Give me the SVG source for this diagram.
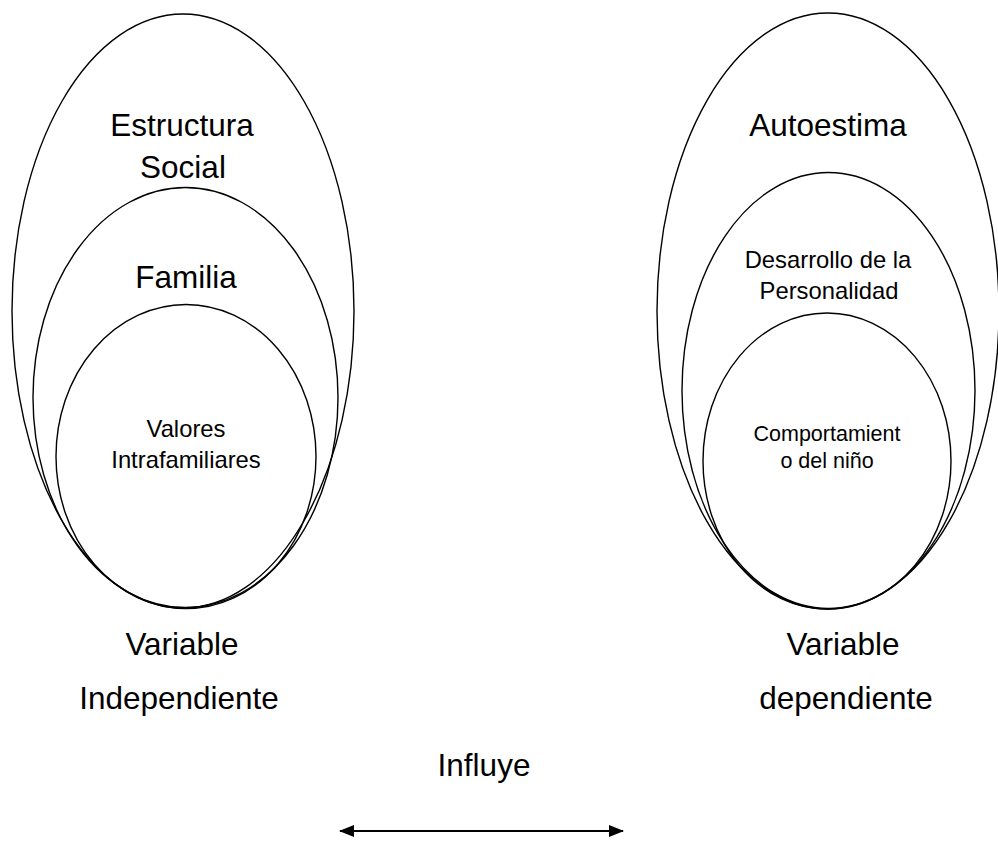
<svg xmlns="http://www.w3.org/2000/svg" width="998" height="843" viewBox="0 0 998 843">
<style>
.e{fill:none;stroke:#000;stroke-width:1.4}
.t{font-family:"Liberation Sans",Arial,sans-serif;fill:#000;text-anchor:middle}
.big{font-size:31.5px}
.sm{font-size:23.8px}
</style>
<defs>
<marker id="ah" viewBox="0 0 15 12" refX="14" refY="6" markerWidth="15" markerHeight="12" markerUnits="userSpaceOnUse" orient="auto-start-reverse">
<path d="M0,0 L15,6 L0,12 Z" fill="#000"/>
</marker>
</defs>
<rect width="998" height="843" fill="#fff"/>
<g id="estructura-social">
<ellipse class="e" cx="183" cy="311" rx="171" ry="297"/>
<text class="t big" x="182" y="136">Estructura</text>
<text class="t big" x="183" y="178">Social</text>
</g>
<g id="familia">
<ellipse class="e" cx="185.5" cy="397.5" rx="152.5" ry="210"/>
<text class="t big" x="186" y="288">Familia</text>
</g>
<g id="valores">
<ellipse class="e" cx="186" cy="456.5" rx="130" ry="152"/>
<text class="t sm" x="186" y="437">Valores</text>
<text class="t sm" x="186" y="468">Intrafamiliares</text>
</g>
<g id="autoestima">
<ellipse class="e" cx="828" cy="311" rx="171" ry="298"/>
<text class="t big" x="828" y="136">Autoestima</text>
</g>
<g id="personalidad">
<ellipse class="e" cx="828.5" cy="390.5" rx="146.5" ry="218"/>
<text class="t sm" x="828" y="268">Desarrollo de la</text>
<text class="t sm" x="829" y="299">Personalidad</text>
</g>
<g id="comportamiento">
<ellipse class="e" cx="827" cy="461" rx="124" ry="148"/>
<text class="t" style="font-size:21.5px" x="827" y="441">Comportamient</text>
<text class="t" style="font-size:21.5px" x="827" y="468">o del niño</text>
</g>
<g id="labels">
<text class="t big" x="182" y="655">Variable</text>
<text class="t big" x="179" y="709">Independiente</text>
<text class="t big" x="843" y="655">Variable</text>
<text class="t big" x="846" y="709">dependiente</text>
<text class="t big" x="484" y="776">Influye</text>
</g>
<g id="connectors">
<line x1="340" y1="831" x2="623" y2="831" stroke="#000" stroke-width="2" marker-start="url(#ah)" marker-end="url(#ah)"/>
</g>
</svg>
